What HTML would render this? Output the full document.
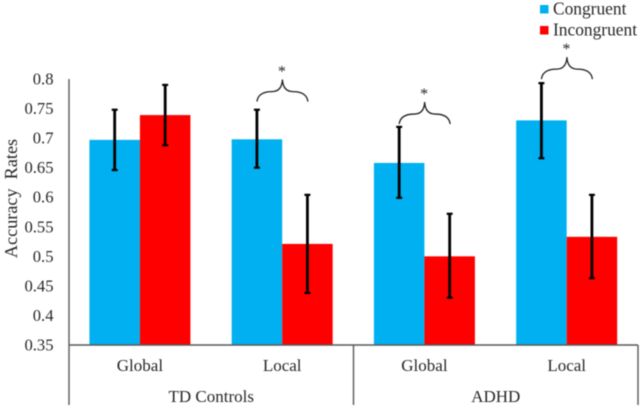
<!DOCTYPE html>
<html lang="en">
<head>
<meta charset="utf-8">
<title>Accuracy Rates Chart</title>
<style>
html,body{margin:0;padding:0;background:#fff;width:642px;height:410px;overflow:hidden}
svg{display:block;filter:blur(0.45px)}
text{font-family:"Liberation Serif",serif;fill:#262626}
</style>
</head>
<body>
<svg id="chart" width="642" height="410" viewBox="0 0 642 410" xmlns="http://www.w3.org/2000/svg"></svg>
<script>
var yTicks = ['0.35','0.4','0.45','0.5','0.55','0.6','0.65','0.7','0.75','0.8'];
var categories = ['Global','Local','Global','Local'];
var groups = ['TD Controls','ADHD'];
var groupSizes = [2,2];
var seriesNames = ['Congruent','Incongruent'];
var congruent = [0.697,0.698,0.658,0.730];
var incongruent = [0.739,0.521,0.500,0.533];
var congruentUpper = [0.748,0.748,0.719,0.793];
var congruentLower = [0.646,0.650,0.599,0.666];
var incongruentUpper = [0.790,0.604,0.572,0.604];
var incongruentLower = [0.688,0.438,0.430,0.463];
var braceCategories = [1,2,3];
var braceTops = [0.799,0.761,0.837];

var svg = document.getElementById('chart');
var NS = 'http://www.w3.org/2000/svg';
var COLORS = ['#00b0f0','#ff0000'];
var AXIS = '#595959';
var LEFT = 69, RIGHT = 638, TOP = 79, BASE = 345, BOTTOM = 405;
var YMIN = parseFloat(yTicks[0]), YMAX = parseFloat(yTicks[yTicks.length-1]);
var BAR_W = 50.5;

function yScale(v){ return BASE - (v - YMIN) / (YMAX - YMIN) * (BASE - TOP); }
function catWidth(){ return (RIGHT - LEFT) / categories.length; }
function catCenter(i){ return LEFT + catWidth() * (i + 0.5) - 0.2; }
function make(tag, attrs, parent){
  var el = document.createElementNS(NS, tag);
  for (var k in attrs) el.setAttribute(k, attrs[k]);
  (parent || svg).appendChild(el);
  return el;
}
function label(str, x, y, size, anchor, parent){
  var t = make('text', {x:x, y:y, 'font-size':size, 'text-anchor':anchor}, parent);
  t.textContent = str;
  return t;
}

// bars
[congruent, incongruent].forEach(function(values, s){
  values.forEach(function(v, i){
    var x = catCenter(i) - BAR_W + s * BAR_W;
    var r = make('rect', {x:x, y:yScale(v), width:BAR_W, height:BASE - yScale(v), fill:COLORS[s]});
    
    
  });
});

// axes
var axes = [
  [LEFT, TOP, LEFT, BOTTOM, 'y-axis-line'],
  [LEFT, BASE, RIGHT, BASE, 'x-axis-line'],
  [LEFT + catWidth() * groupSizes[0], BASE, LEFT + catWidth() * groupSizes[0], BOTTOM, 'group-divider'],
  [RIGHT, BASE, RIGHT, BOTTOM, 'x-axis-right-edge']
];
axes.forEach(function(a){
  var l = make('line', {x1:a[0], y1:a[1], x2:a[2], y2:a[3], stroke:AXIS, 'stroke-width':1.4});
  
  
});

// error bars
function errorBar(up, low, cx, name){
  var g = make('g', {});
  
  
  make('line', {x1:cx, y1:yScale(up), x2:cx, y2:yScale(low), stroke:'#000', 'stroke-width':2.8}, g);
  make('line', {x1:cx-3, y1:yScale(up), x2:cx+3, y2:yScale(up), stroke:'#000', 'stroke-width':2.2}, g);
  make('line', {x1:cx-3, y1:yScale(low), x2:cx+3, y2:yScale(low), stroke:'#000', 'stroke-width':2.2}, g);
}
categories.forEach(function(c, i){
  errorBar(congruentUpper[i], congruentLower[i], catCenter(i) - BAR_W / 2, 'error-bar-congruent-' + (i + 1));
  errorBar(incongruentUpper[i], incongruentLower[i], catCenter(i) + BAR_W / 2, 'error-bar-incongruent-' + (i + 1));
});

// braces and stars
braceCategories.forEach(function(c, i){
  var x0 = catCenter(c) - BAR_W / 2;
  var top = yScale(braceTops[i]);
  var p = make('path', {
    d: 'M0,22 C1,14 8,12 15,12 C20,12 25,10 25.5,0 C26,10 31,12 36,12 C43,12 50,14 51,22',
    transform: 'translate(' + x0 + ',' + top + ')',
    fill: 'none', stroke: '#222', 'stroke-width': 1.3
  });
  
  
  var s = label('*', x0 + 25, top - 3, 16, 'middle');
  
  
});

// y tick labels
yTicks.forEach(function(t){
  var el = label(t, 53.5, yScale(parseFloat(t)) + 5.5, 16.6, 'end');
  
  
});

// x labels
categories.forEach(function(c, i){
  var el = label(c, catCenter(i), 371, 17, 'middle');
  
  
});
var start = 0;
groups.forEach(function(g, i){
  var mid = LEFT + catWidth() * (start + groupSizes[i] / 2);
  var el = label(g, mid, 402, 17, 'middle');
  
  
  start += groupSizes[i];
});

// y axis title
var yTitle = make('text', {x:0, y:0, 'font-size':18.2, 'text-anchor':'middle', transform:'translate(17,198.5) rotate(-90)', 'xml:space':'preserve', style:'white-space:pre'});
yTitle.textContent = 'Accuracy  Rates';



// legend
seriesNames.forEach(function(n, i){
  var y = 5 + i * 21;
  var g = make('g', {});
  
  
  make('rect', {x:540, y:y, width:8.5, height:8.5, fill:COLORS[i]}, g);
  label(n, 553, y + 9.7, 17.4, 'start', g);
});
</script>
</body>
</html>
